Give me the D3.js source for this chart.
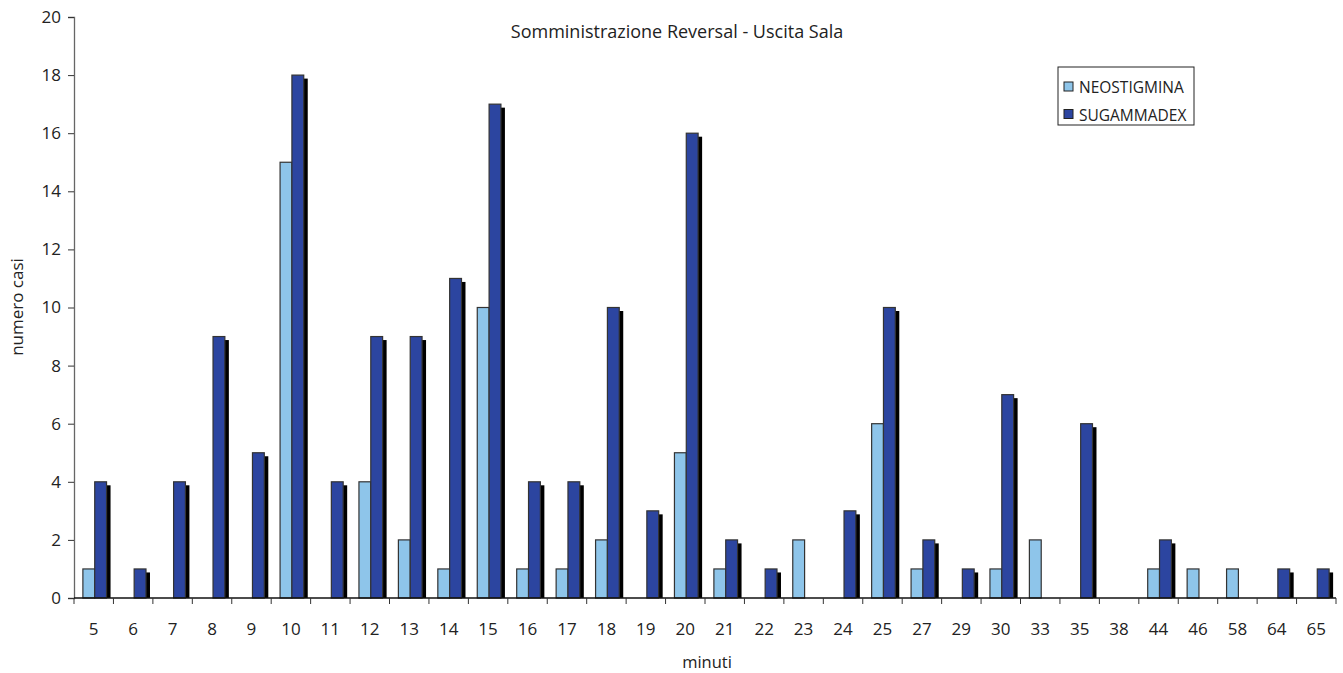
<!DOCTYPE html>
<html>
<head>
<meta charset="utf-8">
<script src="https://cdn.jsdelivr.net/npm/d3@7"></script>
<style>
  body { margin: 0; background: #fff; }
  svg text { font-family: "Open Sans", "Noto Sans", sans-serif; fill: #222; }
</style>
</head>
<body>
<div id="chart"></div>
<script>
const categories = ["5","6","7","8","9","10","11","12","13","14","15","16","17","18","19","20","21","22","23","24","25","27","29","30","33","35","38","44","46","58","64","65"];
const neostigmina = [1,0,0,0,0,15,0,4,2,1,10,1,1,2,0,5,1,0,2,0,6,1,0,1,2,0,0,1,1,1,0,0];
const sugammadex = [4,1,4,9,5,18,4,9,9,11,17,4,4,10,3,16,2,1,0,3,10,2,1,7,0,6,0,2,0,0,1,1];
const seriesNames = ["NEOSTIGMINA", "SUGAMMADEX"];
const colors = ["#8ec5ea", "#2c45a0"];
const yTicks = [0,2,4,6,8,10,12,14,16,18,20];

const WIDTH = 1343, HEIGHT = 673;
const margin = {left: 74, right: 7, top: 17, bottom: 75};

const svg = d3.select("#chart").append("svg")
  .attr("width", WIDTH)
  .attr("height", HEIGHT);

const x = d3.scaleBand()
  .domain(categories)
  .range([margin.left, WIDTH - margin.right])
  .paddingInner(0.4)
  .paddingOuter(0.2);

const xs = d3.scaleBand()
  .domain(seriesNames)
  .range([0, x.bandwidth()]);

const y = d3.scaleLinear()
  .domain([0, 20])
  .range([HEIGHT - margin.bottom, margin.top]);

const step = x.step();
const x0 = margin.left;

// y axis
const yAxis = svg.append("g")
  .attr("transform", "translate(" + x0 + ",0)")
  .call(d3.axisLeft(y).tickValues(yTicks).tickSize(6).tickPadding(7));
yAxis.select(".domain").attr("stroke", "#666").attr("stroke-width", 1.3);
yAxis.selectAll(".tick line").attr("stroke", "#333");
yAxis.selectAll("text").style("font-size", "17px").attr("fill", "#222");

// bars
const rows = categories.map(function(c, i) {
  return {cat: c, vals: [neostigmina[i], sugammadex[i]]};
});

const groups = svg.selectAll(".grp")
  .data(rows)
  .enter().append("g")
  .attr("class", "grp")
  .attr("transform", function(d) { return "translate(" + (x(d.cat) + 1) + ",0)"; });

// shadows for dark series
groups.filter(function(d) { return d.vals[1] > 0; })
  .append("rect")
  .attr("x", function(d) { return xs("SUGAMMADEX") + 4; })
  .attr("y", function(d) { return y(d.vals[1]) + 3.5; })
  .attr("width", xs.bandwidth())
  .attr("height", function(d) { return y(0) - y(d.vals[1]) - 3.5; })
  .attr("fill", "#000");

seriesNames.forEach(function(s, si) {
  groups.filter(function(d) { return d.vals[si] > 0; })
    .append("rect")
    .attr("x", xs(s))
    .attr("y", function(d) { return y(d.vals[si]); })
    .attr("width", xs.bandwidth())
    .attr("height", function(d) { return y(0) - y(d.vals[si]); })
    .attr("fill", colors[si])
    .attr("stroke", "#333")
    .attr("stroke-width", 1.2);
});

// x axis
const xg = svg.append("g")
  .attr("transform", "translate(0," + y(0) + ")");
xg.append("line")
  .attr("x1", x0).attr("x2", WIDTH - margin.right)
  .attr("stroke", "#111").attr("stroke-width", 1.3);
xg.selectAll(".xt")
  .data(d3.range(categories.length + 1))
  .enter().append("line")
  .attr("x1", function(i) { return x0 + i * step; })
  .attr("x2", function(i) { return x0 + i * step; })
  .attr("y1", 0).attr("y2", 6)
  .attr("stroke", "#333");
xg.selectAll(".xl")
  .data(categories)
  .enter().append("text")
  .attr("x", function(d) { return x(d) + x.bandwidth() / 2; })
  .attr("y", 37)
  .attr("text-anchor", "middle")
  .style("font-size", "17px")
  .text(function(d) { return d; });

// titles
svg.append("text")
  .attr("x", 677).attr("y", 37.5)
  .attr("text-anchor", "middle")
  .style("font-size", "18px")
  .text("Somministrazione Reversal - Uscita Sala");

svg.append("text")
  .attr("x", 707).attr("y", 668)
  .attr("text-anchor", "middle")
  .style("font-size", "16.5px")
  .text("minuti");

svg.append("text")
  .attr("transform", "translate(23,307) rotate(-90)")
  .attr("text-anchor", "middle")
  .style("font-size", "17px")
  .text("numero casi");

// legend
const lg = svg.append("g").attr("transform", "translate(1058,67)");
lg.append("rect")
  .attr("width", 136).attr("height", 58)
  .attr("fill", "#fff").attr("stroke", "#222").attr("stroke-width", 1);
seriesNames.forEach(function(s, i) {
  lg.append("rect")
    .attr("x", 6).attr("y", 15 + i * 27.5)
    .attr("width", 9).attr("height", 9)
    .attr("fill", colors[i]).attr("stroke", "#222").attr("stroke-width", 1);
  lg.append("text")
    .attr("x", 21).attr("y", 26 + i * 27.5)
    .style("font-size", "15.5px")
    .text(s);
});
</script>
</body>
</html>
